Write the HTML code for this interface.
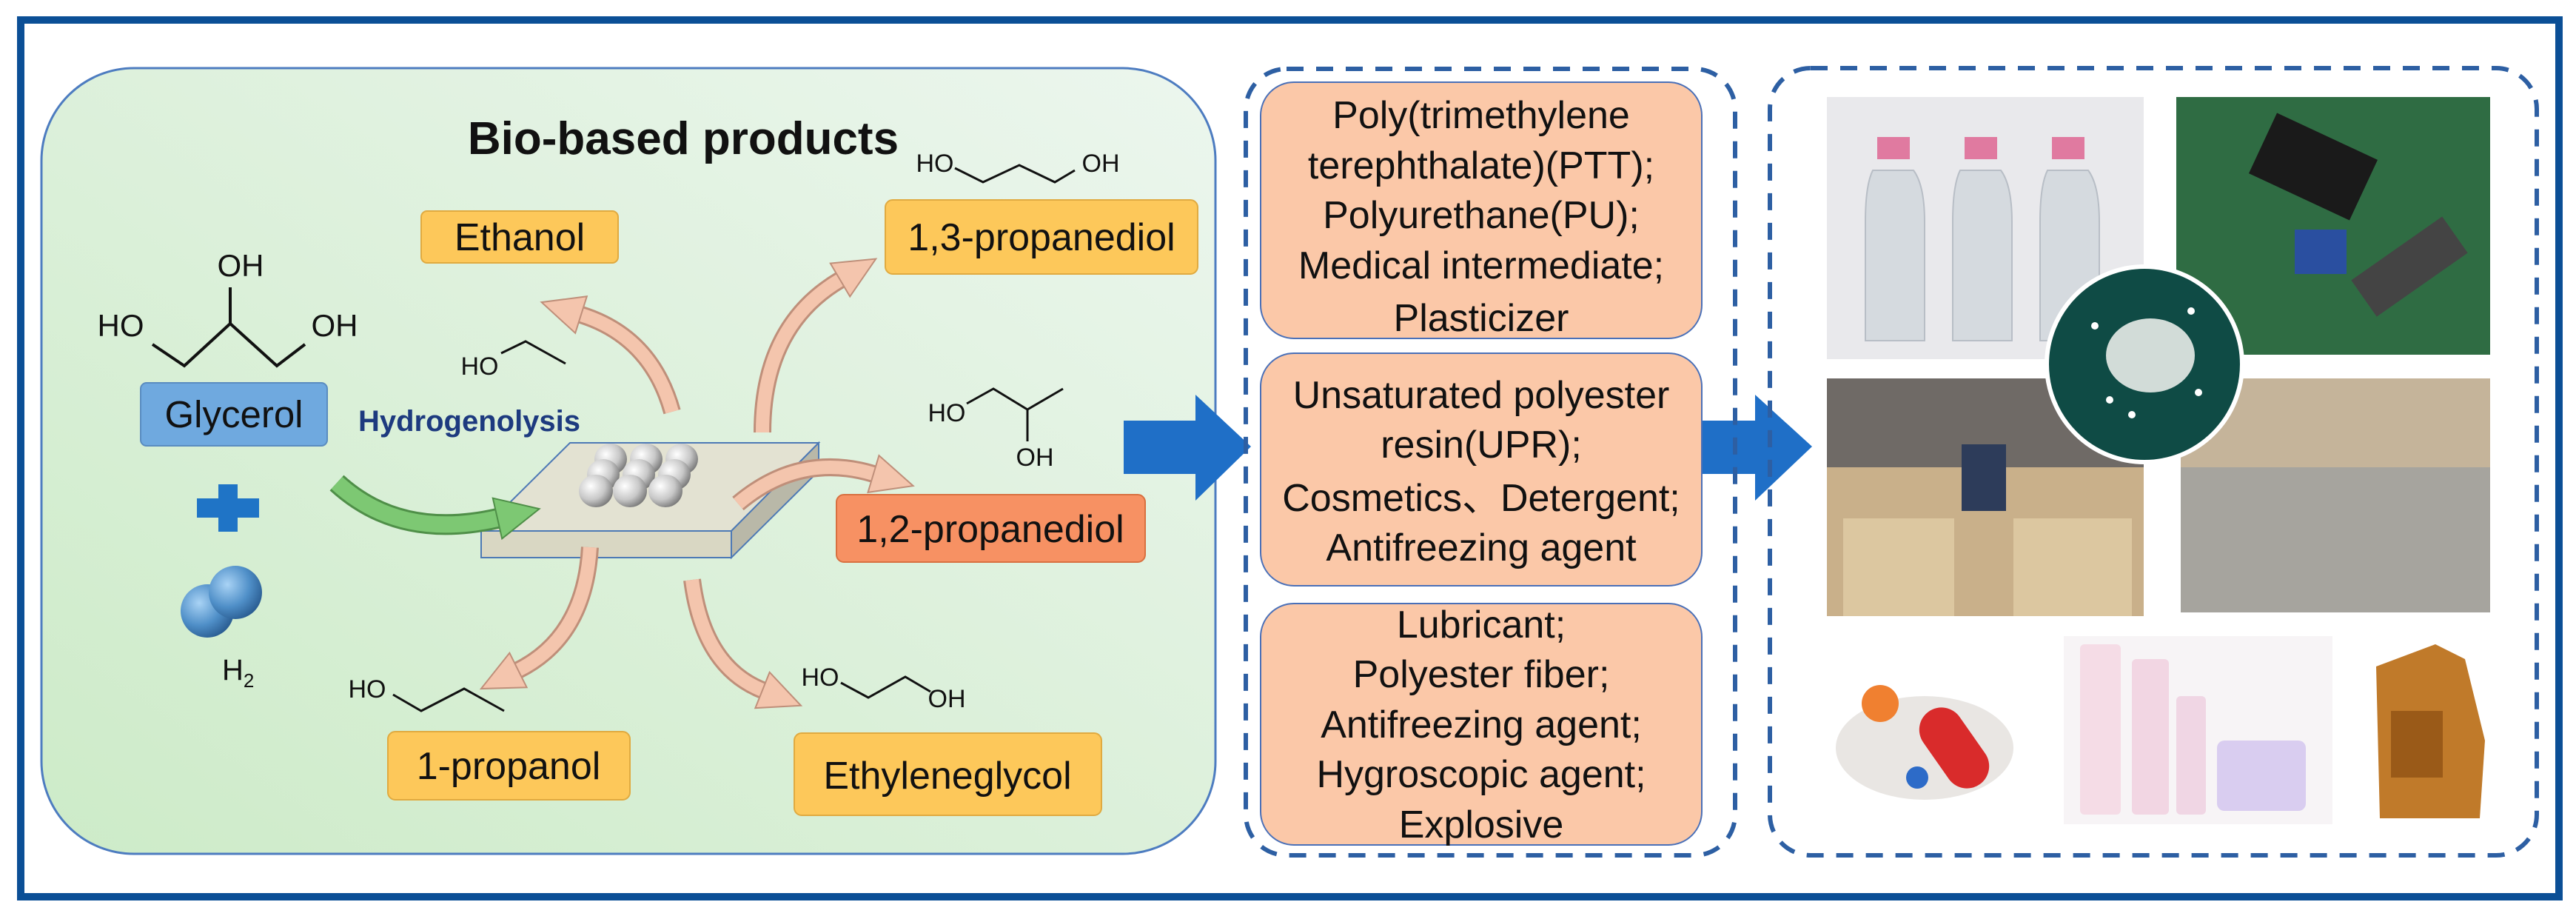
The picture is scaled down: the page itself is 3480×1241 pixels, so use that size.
<!DOCTYPE html>
<html><head><meta charset="utf-8"><style>
html,body{margin:0;padding:0;background:#fff;}
svg{display:block;}
text{font-family:"Liberation Sans",sans-serif;}
</style></head><body>
<svg width="3480" height="1241" viewBox="0 0 3480 1241" xmlns="http://www.w3.org/2000/svg">
<defs>
<linearGradient id="gbg" x1="0" y1="1" x2="1" y2="0">
<stop offset="0" stop-color="#cdebc8"/><stop offset="1" stop-color="#ecf6ee"/>
</linearGradient>
<radialGradient id="ball" cx="0.35" cy="0.35" r="0.7">
<stop offset="0" stop-color="#ffffff"/><stop offset="0.6" stop-color="#c8c8c8"/><stop offset="1" stop-color="#7a7a7a"/>
</radialGradient>
<radialGradient id="hb" cx="0.35" cy="0.35" r="0.7">
<stop offset="0" stop-color="#a9d3f5"/><stop offset="0.6" stop-color="#4f8fc8"/><stop offset="1" stop-color="#2b5e93"/>
</radialGradient>
<marker id="ah" markerUnits="userSpaceOnUse" markerWidth="80" markerHeight="80" refX="4" refY="40" orient="auto">
<path d="M4 14 L60 40 L4 66 Z" fill="#f4c5ad" stroke="#bf8f7a" stroke-width="2"/>
</marker>
<marker id="ahg" markerUnits="userSpaceOnUse" markerWidth="80" markerHeight="80" refX="4" refY="40" orient="auto">
<path d="M4 12 L62 40 L4 68 Z" fill="#7dc873" stroke="#4f8f48" stroke-width="2"/>
</marker>
</defs>
<rect x="0" y="0" width="3480" height="1241" fill="#fff"/>
<rect x="28" y="27" width="3429" height="1184" fill="none" stroke="#0b4f96" stroke-width="10"/>

<!-- green panel -->
<rect x="56" y="92" width="1586" height="1061" rx="125" fill="url(#gbg)" stroke="#4d7cc0" stroke-width="3"/>
<text x="923" y="208" font-size="62" font-weight="bold" text-anchor="middle" fill="#111">Bio-based products</text>

<!-- glycerol structure -->
<g stroke="#111" stroke-width="4" fill="none">
<polyline points="206,465 249,494 311,437 374,494 412,465"/>
<line x1="311" y1="437" x2="311" y2="388"/>
</g>
<g font-size="42" fill="#111" text-anchor="middle">
<text x="325" y="373">OH</text>
<text x="163" y="454">HO</text>
<text x="452" y="454">OH</text>
</g>
<rect x="190" y="517" width="252" height="85" rx="8" fill="#6fa9df" stroke="#5a8cc0" stroke-width="2"/>
<text x="316" y="577" font-size="51" text-anchor="middle" fill="#111">Glycerol</text>

<!-- plus -->
<rect x="266" y="673" width="84" height="26" fill="#1f74c6"/>
<rect x="295" y="654" width="26" height="64" fill="#1f74c6"/>
<!-- H2 -->
<circle cx="280" cy="825" r="36" fill="url(#hb)"/>
<circle cx="318" cy="800" r="36" fill="url(#hb)"/>
<text x="300" y="918" font-size="40" fill="#111">H<tspan font-size="26" dy="10">2</tspan></text>

<text x="634" y="582" font-size="40" font-weight="bold" text-anchor="middle" fill="#1d3a7f">Hydrogenolysis</text>

<!-- catalyst plate -->
<polygon points="770,598 1106,598 988,717 650,717" fill="#e3e2d2" stroke="#4d79b5" stroke-width="2"/>
<polygon points="650,717 988,717 988,753 650,753" fill="#d9d7c3" stroke="#4d79b5" stroke-width="2"/>
<polygon points="988,717 1106,598 1106,636 988,753" fill="#b9b8a8" stroke="#4d79b5" stroke-width="2"/>
<g>
<ellipse cx="825" cy="620" rx="22" ry="21" fill="url(#ball)"/><ellipse cx="873" cy="620" rx="22" ry="21" fill="url(#ball)"/><ellipse cx="921" cy="620" rx="22" ry="21" fill="url(#ball)"/>
<ellipse cx="815" cy="641" rx="22" ry="21" fill="url(#ball)"/><ellipse cx="863" cy="641" rx="22" ry="21" fill="url(#ball)"/><ellipse cx="911" cy="641" rx="22" ry="21" fill="url(#ball)"/>
<ellipse cx="805" cy="663" rx="23" ry="22" fill="url(#ball)"/><ellipse cx="851" cy="663" rx="23" ry="22" fill="url(#ball)"/><ellipse cx="899" cy="663" rx="23" ry="22" fill="url(#ball)"/>
</g>

<!-- arrows -->
<g fill="none" stroke-linecap="butt">
<path d="M455 652 Q 540 730 672 700" stroke="#4f8f48" stroke-width="28" />
<path d="M455 652 Q 540 730 672 700" stroke="#7dc873" stroke-width="22" marker-end="url(#ahg)"/>
<g stroke="#bf8f7a" stroke-width="24">
<path d="M908 556 Q 880 455 785 425"/>
<path d="M1030 584 Q 1030 440 1135 378"/>
<path d="M997 680 Q 1080 610 1180 640"/>
<path d="M797 739 Q 790 860 700 905"/>
<path d="M935 783 Q 950 900 1030 932"/>
</g>
<g stroke="#f4c5ad" stroke-width="18">
<path d="M908 556 Q 880 455 785 425" marker-end="url(#ah)"/>
<path d="M1030 584 Q 1030 440 1135 378" marker-end="url(#ah)"/>
<path d="M997 680 Q 1080 610 1180 640" marker-end="url(#ah)"/>
<path d="M797 739 Q 790 860 700 905" marker-end="url(#ah)"/>
<path d="M935 783 Q 950 900 1030 932" marker-end="url(#ah)"/>
</g>
</g>

<!-- molecules -->
<g stroke="#111" stroke-width="3" fill="none">
<polyline points="1290,227 1328,246 1377,223 1425,246 1452,230"/>
<polyline points="677,477 710,461 764,491"/>
<polyline points="1306,545 1342,525 1388,553 1436,525"/>
<line x1="1388" y1="553" x2="1388" y2="596"/>
<polyline points="531,938 569,960 627,930 681,960"/>
<polyline points="1136,922 1173,942 1223,914 1257,934"/>
</g>
<g font-size="34" fill="#111" text-anchor="middle">
<text x="1263" y="232">HO</text><text x="1487" y="232">OH</text>
<text x="648" y="506">HO</text>
<text x="1279" y="569">HO</text><text x="1398" y="629">OH</text>
<text x="496" y="942">HO</text>
<text x="1108" y="926">HO</text><text x="1279" y="955">OH</text>
</g>

<!-- product boxes -->
<g fill="#fdc85a" stroke="#e0aa40" stroke-width="2">
<rect x="569" y="285" width="266" height="70" rx="8"/>
<rect x="1196" y="270" width="422" height="100" rx="10"/>
<rect x="524" y="988" width="327" height="92" rx="10"/>
<rect x="1073" y="990" width="415" height="111" rx="10"/>
</g>
<rect x="1130" y="668" width="417" height="91" rx="10" fill="#f79163" stroke="#d87040" stroke-width="2"/>
<g font-size="52" fill="#111" text-anchor="middle">
<text x="702" y="338">Ethanol</text>
<text x="1407" y="338">1,3-propanediol</text>
<text x="1338" y="732">1,2-propanediol</text>
<text x="687" y="1052">1-propanol</text>
<text x="1280" y="1065">Ethyleneglycol</text>
</g>

<!-- big arrows -->
<polygon points="1518,568 1615,568 1615,533 1690,603 1615,676 1615,640 1518,640" fill="#1f6fc7"/>
<polygon points="2278,568 2371,568 2371,533 2448,603 2371,676 2371,640 2278,640" fill="#1f6fc7"/>

<!-- middle dashed box -->
<rect x="1683" y="93" width="661" height="1062" rx="55" fill="none" stroke="#2d5fa3" stroke-width="6" stroke-dasharray="23 17"/>
<g fill="#fbc8a8" stroke="#4a70b8" stroke-width="2">
<rect x="1703" y="111" width="596" height="346" rx="45"/>
<rect x="1703" y="477" width="596" height="314" rx="45"/>
<rect x="1703" y="815" width="596" height="326" rx="45"/>
</g>
<g font-size="52" fill="#111" text-anchor="middle">
<text x="2001" y="173">Poly(trimethylene</text>
<text x="2001" y="241">terephthalate)(PTT);</text>
<text x="2001" y="308">Polyurethane(PU);</text>
<text x="2001" y="376">Medical intermediate;</text>
<text x="2001" y="447">Plasticizer</text>
<text x="2001" y="551">Unsaturated polyester</text>
<text x="2001" y="618">resin(UPR);</text>
<text x="2001" y="690">Cosmetics、Detergent;</text>
<text x="2001" y="757">Antifreezing agent</text>
<text x="2001" y="861">Lubricant;</text>
<text x="2001" y="928">Polyester fiber;</text>
<text x="2001" y="996">Antifreezing agent;</text>
<text x="2001" y="1063">Hygroscopic agent;</text>
<text x="2001" y="1131">Explosive</text>
</g>

<!-- right dashed box -->
<rect x="2391" y="92" width="1036" height="1063" rx="55" fill="none" stroke="#2d5fa3" stroke-width="6" stroke-dasharray="23 17"/>
<!-- bottles -->
<rect x="2468" y="131" width="428" height="354" fill="#e9e9ec"/>
<g fill="#d5dadf" stroke="#b8bec6" stroke-width="2">
<path d="M2530 230 Q2520 250 2520 300 L2520 460 L2600 460 L2600 300 Q2600 250 2585 230 Z"/>
<path d="M2648 230 Q2638 250 2638 300 L2638 460 L2718 460 L2718 300 Q2718 250 2703 230 Z"/>
<path d="M2766 230 Q2756 250 2756 300 L2756 460 L2836 460 L2836 300 Q2836 250 2821 230 Z"/>
</g>
<rect x="2536" y="185" width="44" height="30" fill="#e07aa0"/>
<rect x="2654" y="185" width="44" height="30" fill="#e07aa0"/>
<rect x="2772" y="185" width="44" height="30" fill="#e07aa0"/>
<!-- pcb -->
<rect x="2940" y="131" width="424" height="348" fill="#2f6c43"/>
<rect x="3050" y="180" width="150" height="90" fill="#1a1a1a" transform="rotate(25 3125 225)"/>
<rect x="3180" y="330" width="150" height="60" fill="#444" transform="rotate(-35 3255 360)"/>
<rect x="3100" y="310" width="70" height="60" fill="#2a4fa0"/>
<!-- car -->
<rect x="2468" y="511" width="428" height="321" fill="#c9b08a"/>
<rect x="2468" y="511" width="428" height="120" fill="#6f6a66"/>
<rect x="2650" y="600" width="60" height="90" fill="#2d3c5a"/>
<rect x="2490" y="700" width="150" height="132" fill="#dcc7a0"/>
<rect x="2720" y="700" width="160" height="132" fill="#dcc7a0"/>
<!-- sofa/carpet -->
<rect x="2946" y="511" width="418" height="316" fill="#a6a49e"/>
<rect x="2946" y="511" width="418" height="120" fill="#c5b49a"/>
<!-- pellets -->
<circle cx="2897" cy="492" r="132" fill="#0f4b45" stroke="#fff" stroke-width="6"/>
<ellipse cx="2905" cy="480" rx="60" ry="50" fill="#e8ece8" opacity="0.9"/>
<g fill="#fff"><circle cx="2830" cy="440" r="5"/><circle cx="2970" cy="530" r="5"/><circle cx="2850" cy="540" r="5"/><circle cx="2960" cy="420" r="5"/><circle cx="2880" cy="560" r="5"/></g>
<!-- pills -->
<ellipse cx="2600" cy="1010" rx="120" ry="70" fill="#e9e6e3"/>
<rect x="2610" y="950" width="60" height="120" rx="30" fill="#d92b2b" transform="rotate(-35 2640 1010)"/>
<circle cx="2540" cy="950" r="25" fill="#f08030"/>
<circle cx="2590" cy="1050" r="15" fill="#2d6bc8"/>
<!-- cosmetics -->
<rect x="2788" y="859" width="363" height="254" fill="#f7f4f6"/>
<rect x="2810" y="870" width="55" height="230" rx="6" fill="#f5dce6"/>
<rect x="2880" y="890" width="50" height="210" rx="6" fill="#f2d6e3"/>
<rect x="2940" y="940" width="40" height="160" rx="6" fill="#f0d6e4"/>
<rect x="2995" y="1000" width="120" height="95" rx="10" fill="#d9cdf0"/>
<!-- oil can -->
<path d="M3210 900 L3290 870 L3330 890 L3357 1000 L3350 1105 L3215 1105 Z" fill="#c07a2a"/>
<rect x="3230" y="960" width="70" height="90" fill="#9a5a18"/>
</svg>
</body></html>
